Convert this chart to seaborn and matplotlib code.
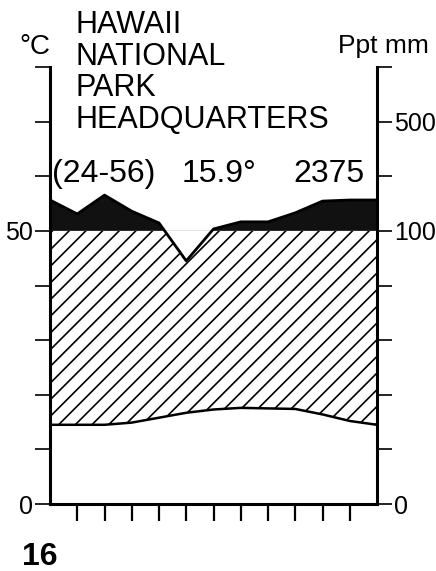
import numpy as np
import pandas as pd
import matplotlib
matplotlib.use("Agg")
import matplotlib.pyplot as plt
import seaborn as sns
from matplotlib.patches import Rectangle

# ---- data ----
months = ["Jan", "Feb", "Mar", "Apr", "May", "Jun",
          "Jul", "Aug", "Sep", "Oct", "Nov", "Dec"]
temp_c = [14.5, 14.5, 14.5, 14.9, 15.8, 16.7, 17.3, 17.6, 17.5, 17.4, 16.4, 15.2]
precip_mm = [213, 162, 231, 172, 129, 89, 107, 133, 133, 166, 209, 213]

title_lines = ["HAWAII", "NATIONAL", "PARK", "HEADQUARTERS"]
years_label = "(24-56)"
mean_temp_label = "15.9°"
annual_ppt_label = "2375"
left_unit = "°C"
right_unit = "Ppt mm"
panel_number = "16"
left_ticklabels = ["0", "", "", "", "", "50", "", "", ""]
right_ticklabels = ["0", "", "", "", "", "100", "", "500", ""]

sns.set_theme(style="white")
plt.rcParams["font.family"] = ["Liberation Sans", "DejaVu Sans"]
plt.rcParams["hatch.linewidth"] = 1.2
plt.rcParams["text.color"] = "black"
plt.rcParams["xtick.color"] = "black"
plt.rcParams["ytick.color"] = "black"
plt.rcParams["xtick.labelcolor"] = "black"
plt.rcParams["ytick.labelcolor"] = "black"
plt.rcParams["axes.labelcolor"] = "black"


def ppt_scale(p):
    p = np.asarray(p, dtype=float)
    return np.where(p <= 100, p / 2.0, 50 + (p - 100) / 20.0)


# wrap January to close the annual cycle
x = np.arange(len(months) + 1)
t = np.array(temp_c + temp_c[:1])
p = ppt_scale(precip_mm + precip_mm[:1])
df = pd.DataFrame({"pos": x, "temp": t, "ppt": p})

W, H = 436, 571
fig = plt.figure(figsize=(W / 100, H / 100), dpi=100)
L, R, B, T = 50, 377, 504, 67
ax = fig.add_axes([L / W, 1 - B / H, (R - L) / W, (B - T) / H])
ax.set_xlim(0, 12)
ax.set_ylim(0, 80)

# hatched humid area (below 100 mm line)
hatch = ax.fill_between(df["pos"], df["temp"], df["ppt"], facecolor="none",
                        edgecolor="black", hatch="//", linewidth=0)
hatch.set_clip_path(Rectangle((0, 0), 12, 50, transform=ax.transData))

# black perhumid area (above 100 mm)
black = ax.fill_between(df["pos"], 50, df["ppt"], facecolor="#111111",
                        edgecolor="none", linewidth=0)
black.set_clip_path(Rectangle((0, 50), 12, 30, transform=ax.transData))

sns.lineplot(data=df, x="pos", y="temp", ax=ax, color="black", linewidth=1.8)
sns.lineplot(data=df, x="pos", y="ppt", ax=ax, color="black", linewidth=2)
ax.set_xlabel("")
ax.set_ylabel("")

for s in ["left", "right", "bottom"]:
    ax.spines[s].set_visible(True)
    ax.spines[s].set_color("black")
    ax.spines[s].set_linewidth(2.2)
ax.spines["top"].set_visible(False)

ax.set_xticks(range(1, 12))
ax.set_xticklabels([])
ax.tick_params(axis="x", direction="out", length=12, width=1.6, color="black",
               bottom=True)

yt = list(range(0, 90, 10))
ax.set_yticks(yt)
ax.set_yticklabels(left_ticklabels, fontsize=18)
ax.tick_params(axis="y", direction="out", length=11, width=1.2, color="black",
               labelcolor="black", left=True, pad=1)

ax2 = ax.twinx()
ax2.set_ylim(0, 80)
ax2.set_yticks(yt)
ax2.set_yticklabels(right_ticklabels, fontsize=18)
ax2.tick_params(axis="y", direction="out", length=11, width=1.2, color="black",
                labelcolor="black", right=True, pad=1)
for s in ax2.spines.values():
    s.set_visible(False)
ax2.grid(False)
ax.grid(False)


def fx(px):
    return px / W


def fy(py):
    return 1 - py / H


for i, line in enumerate(title_lines):
    fig.text(fx(75), fy(33 + i * 31.7), line, fontsize=22, va="baseline",
             ha="left", color="black")

fig.text(fx(52), fy(182), years_label, fontsize=23, va="baseline", ha="left")
fig.text(fx(182), fy(182), mean_temp_label, fontsize=23, va="baseline", ha="left")
fig.text(fx(364), fy(182), annual_ppt_label, fontsize=23, va="baseline", ha="right")
fig.text(fx(19), fy(54), left_unit, fontsize=20, va="baseline", ha="left")
fig.text(fx(429), fy(53), right_unit, fontsize=19, va="baseline", ha="right")
fig.text(fx(22), fy(565), panel_number, fontsize=23, fontweight="bold",
         va="baseline", ha="left")

fig.savefig("out.png", dpi=100, facecolor="white")
